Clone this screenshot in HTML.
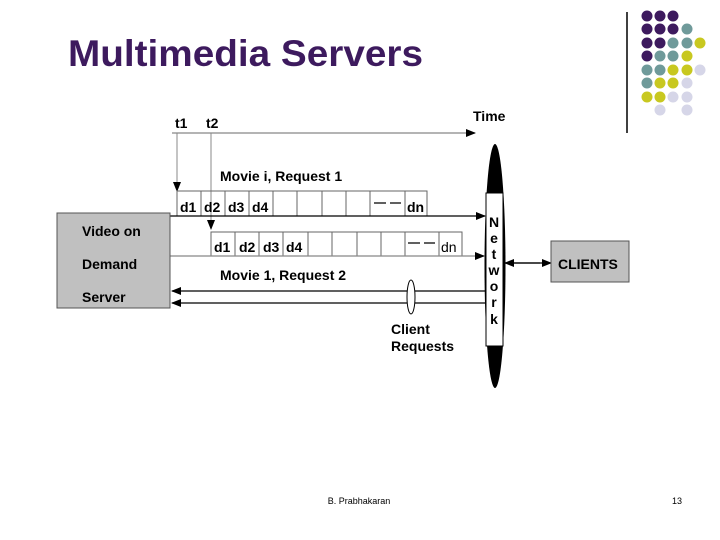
<!DOCTYPE html>
<html><head><style>
body{margin:0;width:720px;height:540px;background:#fff;overflow:hidden;position:relative;font-family:"Liberation Sans",sans-serif}
</style></head><body>
<svg width="720" height="540" style="position:absolute;left:0;top:0" font-family="Liberation Sans, sans-serif">
<defs><marker id="a" markerWidth="10" markerHeight="8" refX="9" refY="4" orient="auto" markerUnits="userSpaceOnUse"><path d="M0,0 L10,4 L0,8 z" fill="#000"/></marker></defs>
<text x="68" y="66" font-size="37" font-weight="bold" fill="#3d1a5e" textLength="355" lengthAdjust="spacingAndGlyphs">Multimedia Servers</text>
<line x1="627" y1="12" x2="627" y2="133" stroke="#000" stroke-width="1.5"/>
<g>
<circle cx="647" cy="16" r="5.5" fill="#3d1a5e"/><circle cx="660" cy="16" r="5.5" fill="#3d1a5e"/><circle cx="673" cy="16" r="5.5" fill="#3d1a5e"/>
<circle cx="647" cy="29" r="5.5" fill="#3d1a5e"/><circle cx="660" cy="29" r="5.5" fill="#3d1a5e"/><circle cx="673" cy="29" r="5.5" fill="#3d1a5e"/><circle cx="687" cy="29" r="5.5" fill="#6f9a9a"/>
<circle cx="647" cy="43" r="5.5" fill="#3d1a5e"/><circle cx="660" cy="43" r="5.5" fill="#3d1a5e"/><circle cx="673" cy="43" r="5.5" fill="#6f9a9a"/><circle cx="687" cy="43" r="5.5" fill="#6f9a9a"/><circle cx="700" cy="43" r="5.5" fill="#c8c820"/>
<circle cx="647" cy="56" r="5.5" fill="#3d1a5e"/><circle cx="660" cy="56" r="5.5" fill="#6f9a9a"/><circle cx="673" cy="56" r="5.5" fill="#6f9a9a"/><circle cx="687" cy="56" r="5.5" fill="#c8c820"/>
<circle cx="647" cy="70" r="5.5" fill="#6f9a9a"/><circle cx="660" cy="70" r="5.5" fill="#6f9a9a"/><circle cx="673" cy="70" r="5.5" fill="#c8c820"/><circle cx="687" cy="70" r="5.5" fill="#c8c820"/><circle cx="700" cy="70" r="5.5" fill="#d6d6e8"/>
<circle cx="647" cy="83" r="5.5" fill="#6f9a9a"/><circle cx="660" cy="83" r="5.5" fill="#c8c820"/><circle cx="673" cy="83" r="5.5" fill="#c8c820"/><circle cx="687" cy="83" r="5.5" fill="#d6d6e8"/>
<circle cx="647" cy="97" r="5.5" fill="#c8c820"/><circle cx="660" cy="97" r="5.5" fill="#c8c820"/><circle cx="673" cy="97" r="5.5" fill="#d6d6e8"/><circle cx="687" cy="97" r="5.5" fill="#d6d6e8"/>
<circle cx="660" cy="110" r="5.5" fill="#d6d6e8"/><circle cx="687" cy="110" r="5.5" fill="#d6d6e8"/>
</g>
<g font-weight="bold" font-size="14" fill="#000">
<text x="175" y="128">t1</text><text x="206" y="128">t2</text>
<text x="473" y="121">Time</text>
<text x="220" y="181">Movie i, Request 1</text>
<text x="220" y="280">Movie 1, Request 2</text>
<text x="391" y="334">Client</text><text x="391" y="351">Requests</text>
</g>
<line x1="172" y1="133" x2="475" y2="133" stroke="#888" stroke-width="1.2" marker-end="url(#a)"/>
<line x1="177" y1="133" x2="177" y2="191" stroke="#888" marker-end="url(#a)"/>
<line x1="211" y1="133" x2="211" y2="229" stroke="#888" marker-end="url(#a)"/>
<g stroke="#666" fill="none">
<rect x="177" y="191" width="250" height="25"/>
<path d="M201,191V216M225,191V216M249,191V216M273,191V216M297,191V216M322,191V216M346,191V216M370,191V216M405,191V216"/>
<rect x="211" y="232" width="251" height="24"/>
<path d="M235,232V256M259,232V256M283,232V256M308,232V256M332,232V256M357,232V256M381,232V256M405,232V256M439,232V256"/>
</g>
<path d="M374,203H386M390,203H401M408,243H420M424,243H435" stroke="#000" stroke-width="1.3"/>
<g font-size="14" font-weight="bold">
<text x="180" y="212">d1</text><text x="204" y="212">d2</text><text x="228" y="212">d3</text><text x="252" y="212">d4</text><text x="407" y="212">dn</text>
<text x="214" y="252">d1</text><text x="239" y="252">d2</text><text x="263" y="252">d3</text><text x="286" y="252">d4</text><text x="441" y="252" font-weight="normal">dn</text>
</g>
<line x1="170" y1="216" x2="485" y2="216" stroke="#000" stroke-width="1.3" marker-end="url(#a)"/>
<line x1="170" y1="256" x2="484" y2="256" stroke="#888" stroke-width="1.2" marker-end="url(#a)"/>
<line x1="486" y1="291" x2="172" y2="291" stroke="#000" stroke-width="1.3" marker-end="url(#a)"/>
<line x1="486" y1="303" x2="172" y2="303" stroke="#000" stroke-width="1.3" marker-end="url(#a)"/>
<ellipse cx="411" cy="297" rx="4" ry="17" fill="#fff" stroke="#000"/>
<rect x="57" y="213" width="113" height="95" fill="#c0c0c0" stroke="#555"/>
<g font-size="14" font-weight="bold"><text x="82" y="236">Video on</text><text x="82" y="269">Demand</text><text x="82" y="302">Server</text></g>
<ellipse cx="495" cy="266" rx="10.5" ry="122" fill="#000"/>
<rect x="486" y="193" width="17" height="153" fill="#fff" stroke="#000"/>
<g font-size="14" font-weight="bold" text-anchor="middle">
<text x="494" y="227">N</text><text x="494" y="243">e</text><text x="494" y="259">t</text><text x="494" y="275">w</text><text x="494" y="291">o</text><text x="494" y="307">r</text><text x="494" y="324">k</text>
</g>
<line x1="514" y1="263" x2="551" y2="263" stroke="#000" stroke-width="1.3" marker-end="url(#a)"/>
<line x1="540" y1="263" x2="505" y2="263" stroke="#000" stroke-width="1.3" marker-end="url(#a)"/>
<rect x="551" y="241" width="78" height="41" fill="#c0c0c0" stroke="#555"/>
<text x="558" y="269" font-size="14" font-weight="bold">CLIENTS</text>
<text x="359" y="504" font-size="9" text-anchor="middle">B. Prabhakaran</text>
<text x="672" y="504" font-size="9">13</text>
</svg>
</body></html>
